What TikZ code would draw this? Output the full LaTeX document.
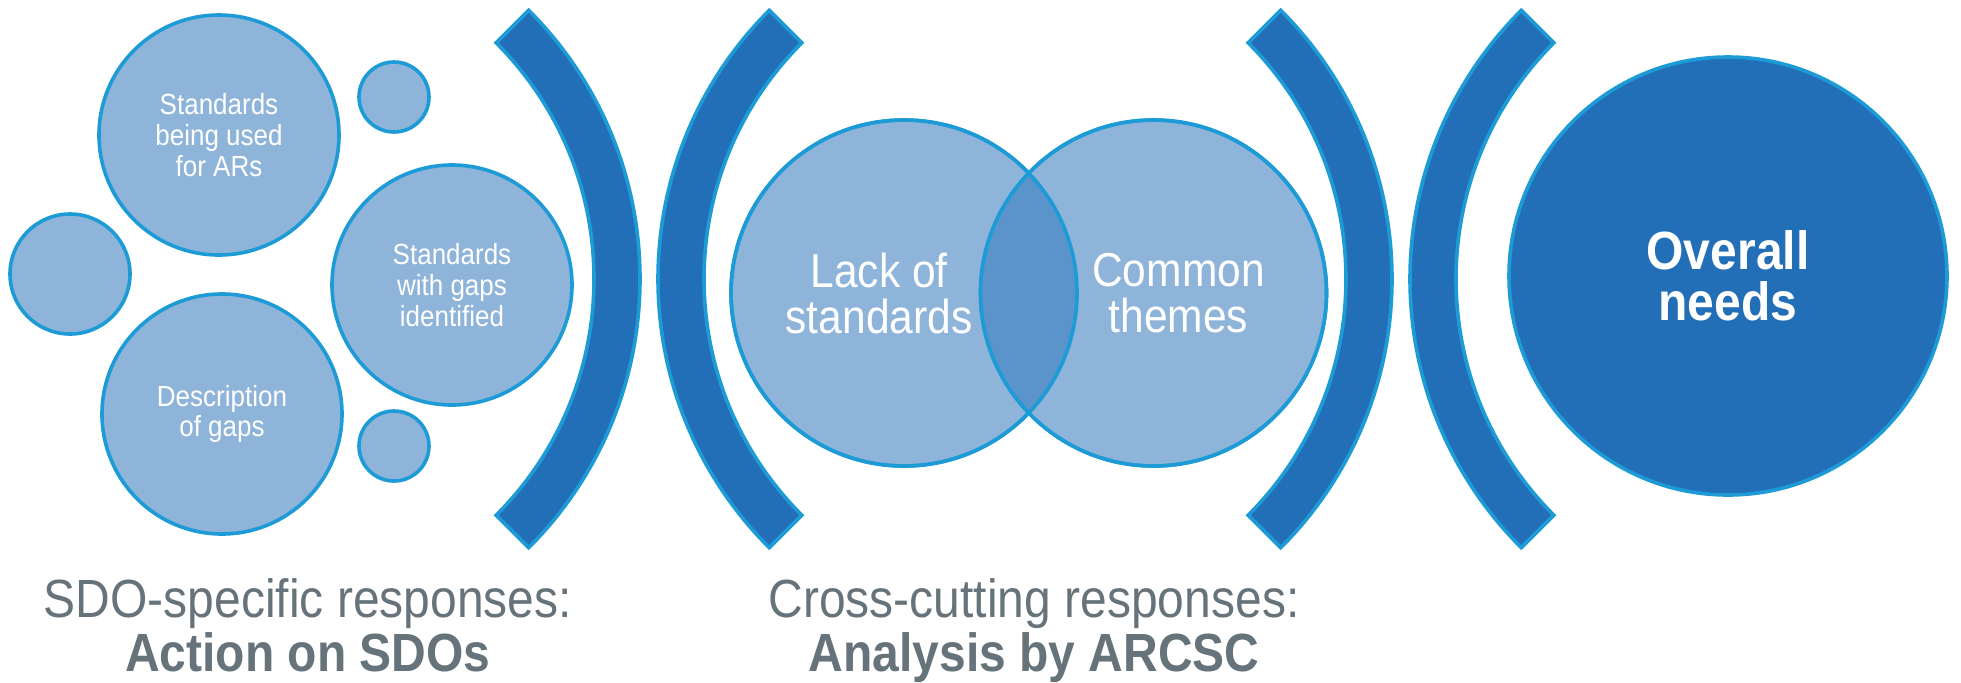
\documentclass[tikz,border=0pt]{standalone}
\usepackage{graphicx}
\usepackage{fontspec}
\setmainfont{Liberation Sans}
\definecolor{bubble}{HTML}{8FB4DA}
\definecolor{rim}{HTML}{1C9BD7}
\definecolor{deep}{HTML}{236FB7}
\definecolor{lens}{HTML}{5A94CA}
\definecolor{slate}{HTML}{66737A}
\newcommand\tall[1]{\scalebox{1}[1.12]{#1}}
\tikzset{bubble node/.style={circle,fill=bubble,draw=rim,line width=1.8pt,inner sep=0pt,text=white,align=center},
         big bubble/.style={bubble node,minimum size=120pt,font=\fontsize{13}{15.3}\selectfont},
         small bubble/.style={bubble node,minimum size=#1},
         venn node/.style={bubble node,minimum size=173pt},
         venn text/.style={text=white,align=center,inner sep=0pt,font=\fontsize{21.25}{23}\selectfont},
         goal node/.style={circle,fill=deep,draw=rim,line width=1.8pt,inner sep=0pt,minimum size=219pt,
                           text=white,align=center,font=\bfseries\fontsize{24}{25.5}\selectfont},
         paren band/.style={fill=deep,draw=rim,line width=1.8pt},
         caption/.style={text=slate,align=center,inner sep=0pt,font=\fontsize{24}{27}\selectfont},
}

\begin{document}
\begin{tikzpicture}[x=0.5pt,y=-0.5pt]
\path[use as bounding box,fill=white] (0,0) rectangle (1961,682);

% SDO-specific group
\node[big bubble] (used) at (219,135) {\tall{Standards}\\\tall{being used}\\\tall{for ARs}};
\node[big bubble] (gaps) at (452,285) {\tall{Standards}\\\tall{with gaps}\\\tall{identified}};
\node[big bubble] (desc) at (222,414) {\tall{Description}\\\tall{of gaps}};
\node[small bubble=60pt] (dotl) at (70,274) {};
\node[small bubble=35pt] (dott) at (394,97) {};
\node[small bubble=35pt] (dotb) at (394,446) {};

% brackets
\draw[paren band,shift={(260,279)}] (-45:380) arc[start angle=-45,end angle=45,radius=380]
      -- (45:334) arc[start angle=45,end angle=-45,radius=334] -- cycle;
\draw[paren band,shift={(1038,279)}] (135:380) arc[start angle=135,end angle=225,radius=380]
      -- (225:334) arc[start angle=225,end angle=135,radius=334] -- cycle;
\draw[paren band,shift={(1012,279)}] (-45:380) arc[start angle=-45,end angle=45,radius=380]
      -- (45:334) arc[start angle=45,end angle=-45,radius=334] -- cycle;
\draw[paren band,shift={(1790,279)}] (135:380) arc[start angle=135,end angle=225,radius=380]
      -- (225:334) arc[start angle=225,end angle=135,radius=334] -- cycle;

% cross-cutting venn
\node[venn node] (lack) at (904,293) {};
\node[venn node] (common) at (1153.5,293) {};
\begin{scope}
  \clip (lack.center) circle[radius=173];
  \fill[lens] (common.center) circle[radius=173];
\end{scope}
\draw[rim,line width=1.8pt] (lack.center) circle[radius=173] (common.center) circle[radius=173];
\node[venn text] (lacktxt) at ([xshift=-12.5pt]lack.center) {\tall{Lack of}\\\tall{standards}};
\node[venn text] (commontxt) at ([xshift=12.5pt]common.center) {\tall{Common}\\\tall{themes}};

% overall
\node[goal node] (needs) at (1728,276) {\tall{Overall}\\\tall{needs}};

% captions
\node[caption,anchor=north] (sdo) at (308,578) {\tall{SDO-specific responses:}\\\tall{\textbf{Action on SDOs}}};
\node[caption,anchor=north] (arcsc) at (1034,578) {\tall{Cross-cutting responses:}\\\tall{\textbf{Analysis by ARCSC}}};
\end{tikzpicture}
\end{document}
